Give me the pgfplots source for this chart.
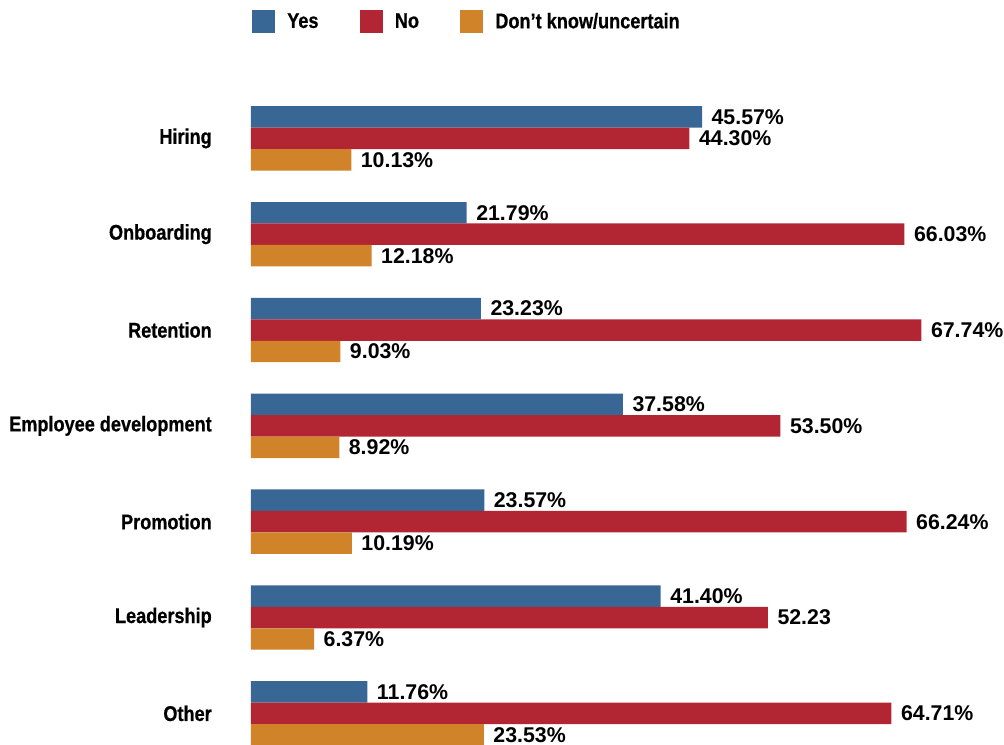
\documentclass[border=0pt]{standalone}
\usepackage{pgfplots}
\pgfplotsset{compat=1.18}
\usepackage{fontspec}
\setmainfont{Liberation Sans}
\newfontfamily\catfont{Liberation Sans}[FakeStretch=0.85, FakeBold=0.6]
\newfontfamily\numfont{Liberation Sans}
\definecolor{cyes}{RGB}{56,103,150}
\definecolor{cno}{RGB}{178,37,50}
\definecolor{cunc}{RGB}{208,131,41}
\begin{document}
\begin{tikzpicture}
\useasboundingbox (0,0) rectangle (753pt,558.75pt);
\begin{axis}[
  at={(188.25pt,-12.2pt)}, anchor=south west,
  scale only axis, width=556.7pt, height=503.1pt,
  xbar, bar width=16.1pt,
  xmin=0, xmax=75, ymin=-0.5, ymax=6.5,
  enlargelimits=false, clip=false,
  axis line style={draw=none},
  xtick=\empty,
  ytick={0,1,2,3,4,5,6},
  yticklabels={Other,Leadership,Promotion,Employee development,Retention,Onboarding,Hiring},
  major tick length=0pt,
  yticklabel style={font=\catfont\bfseries\fontsize{16}{19}\selectfont, anchor=east, inner sep=0pt, xshift=-29.25pt},
  point meta=explicit symbolic,
  nodes near coords={\pgfplotspointmeta},
  every node near coord/.append style={font=\numfont\bfseries\fontsize{16}{19}\selectfont, anchor=west, inner sep=0pt, xshift=7pt, text=black},
  sq/.style={legend image code/.code={\fill[##1] (0pt,-8.6pt) rectangle (17.25pt,8.6pt);}},
  legend columns=3,
  legend style={at={(0,1)}, anchor=north west, xshift=0.75pt, yshift=60.45pt,
    draw=none, fill=none, inner sep=0pt,
    font=\catfont\bfseries\fontsize{16}{19}\selectfont,
    nodes={inner sep=0pt},
    /tikz/every odd column/.style={column sep=9pt},
    /tikz/every even column/.style={column sep=31pt}},
  legend cell align=left,
]
\addplot[draw=none, fill=cyes, bar shift=16.1pt, sq] coordinates {
 (45.57,6) [45.57\%]
 (21.79,5) [21.79\%]
 (23.23,4) [23.23\%]
 (37.58,3) [37.58\%]
 (23.57,2) [23.57\%]
 (41.40,1) [41.40\%]
 (11.76,0) [11.76\%]
};
\addlegendentry{Yes}
\addplot[draw=none, fill=cno, bar shift=0pt, sq] coordinates {
 (44.30,6) [44.30\%]
 (66.03,5) [66.03\%]
 (67.74,4) [67.74\%]
 (53.50,3) [53.50\%]
 (66.24,2) [66.24\%]
 (52.23,1) [52.23]
 (64.71,0) [64.71\%]
};
\addlegendentry{No}
\addplot[draw=none, fill=cunc, bar shift=-16.1pt, sq] coordinates {
 (10.13,6) [10.13\%]
 (12.18,5) [12.18\%]
 (9.03,4) [9.03\%]
 (8.92,3) [8.92\%]
 (10.19,2) [10.19\%]
 (6.37,1) [6.37\%]
 (23.53,0) [23.53\%]
};
\addlegendentry{Don’t know/uncertain}
\end{axis}
\end{tikzpicture}
\end{document}
